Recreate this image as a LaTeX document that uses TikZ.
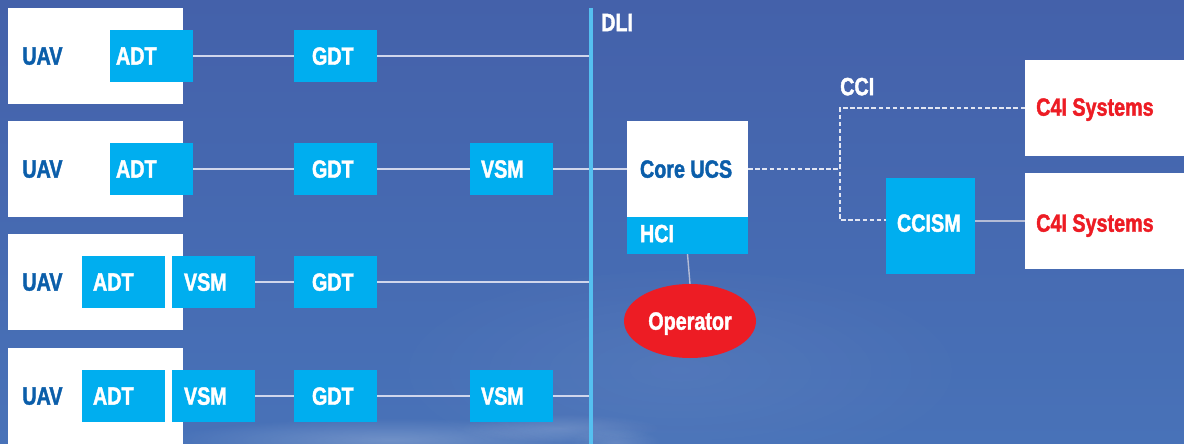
\documentclass[tikz,border=0pt]{standalone}
\usepackage{fontspec}
\newfontfamily\condbf{Liberation Sans Bold}[FakeStretch=0.79, FakeBold=1.6]
\usetikzlibrary{shapes.geometric,fadings}

\definecolor{skytop}{RGB}{68,97,170}
\definecolor{skybot}{RGB}{72,114,184}
\definecolor{boxcyan}{RGB}{0,174,239}
\definecolor{uavblue}{RGB}{11,94,170}
\definecolor{alertred}{RGB}{237,28,36}
\definecolor{dlicol}{RGB}{85,192,240}
\definecolor{linkcol}{RGB}{208,214,236}
\definecolor{dashcol}{RGB}{226,230,243}
\definecolor{greylink}{RGB}{180,188,214}

\tikzfading[name=softblob, inner color=transparent!0, outer color=transparent!100]

\begin{document}
\begin{tikzpicture}[x=1pt, y=-1pt,
  font=\condbf\fontsize{25}{28}\selectfont,
  wbox/.style={fill=white, minimum width=175, minimum height=96, inner sep=0},
  bbox/.style={fill=boxcyan, minimum width=83, minimum height=52, inner sep=0},
  lbl/.style={anchor=west, inner sep=0, text depth=0pt},
  wlbl/.style={lbl, text=white},
  blbl/.style={lbl, text=uavblue},
  rlbl/.style={lbl, text=alertred},
  link/.style={draw=linkcol, line width=1.6},
  glink/.style={draw=greylink, line width=1.4},
  ccil/.style={draw=dashcol, line width=1.6, dash pattern=on 4.5pt off 2.6pt},
  dliline/.style={draw=dlicol, line width=3.6}]

% sky background
\clip (0,0) rectangle (1184,444);
\shade[top color=skytop, bottom color=skybot] (0,0) rectangle (1184,444);
\fill[white, opacity=0.06, path fading=softblob] (680,370) ellipse (300 and 110);
\fill[white, opacity=0.22, path fading=softblob] (390,440) ellipse (220 and 22);
\fill[white, opacity=0.16, path fading=softblob] (560,428) ellipse (100 and 14);
\fill[white, opacity=0.14, path fading=softblob] (615,442) ellipse (45 and 14);

% UAV frames
\node[wbox, label={[blbl, xshift=14.3]west:UAV}] (uav1) at (95.5,56) {};
\node[wbox, label={[blbl, xshift=14.3]west:UAV}] (uav2) at (95.5,169) {};
\node[wbox, label={[blbl, xshift=14.3]west:UAV}] (uav3) at (95.5,282) {};
\node[wbox, label={[blbl, xshift=14.3]west:UAV}] (uav4) at (95.5,396) {};

% row 1
\node[bbox, label={[wlbl, xshift=6]west:ADT}] (adt1) at (151.5,56) {};
\node[bbox, label={[wlbl, xshift=18]west:GDT}] (gdt1) at (335.5,56) {};
% row 2
\node[bbox, label={[wlbl, xshift=6]west:ADT}] (adt2) at (151.5,169) {};
\node[bbox, label={[wlbl, xshift=18]west:GDT}] (gdt2) at (335.5,169) {};
\node[bbox, label={[wlbl, xshift=11]west:VSM}] (vsm2) at (511.5,169) {};
% row 3
\node[bbox, label={[wlbl, xshift=11]west:ADT}] (adt3) at (123.5,282) {};
\node[bbox, label={[wlbl, xshift=12]west:VSM}] (vsm3) at (213.5,282) {};
\node[bbox, label={[wlbl, xshift=18]west:GDT}] (gdt3) at (335.5,282) {};
% row 4
\node[bbox, label={[wlbl, xshift=11]west:ADT}] (adt4) at (123.5,396) {};
\node[bbox, label={[wlbl, xshift=12]west:VSM}] (vsm4) at (213.5,396) {};
\node[bbox, label={[wlbl, xshift=18]west:GDT}] (gdt4) at (335.5,396) {};
\node[bbox, label={[wlbl, xshift=11]west:VSM}] (vsm5) at (511.5,396) {};

% control station
\node[fill=white, minimum width=121, minimum height=96, inner sep=0,
      label={[blbl, xshift=13]west:Core UCS}] (core) at (687.5,169) {};
\node[fill=boxcyan, minimum width=121, minimum height=37, inner sep=0,
      label={[wlbl, xshift=13, yshift=2]west:HCI}] (hci) at (687.5,235.5) {};
\node[ellipse, fill=alertred, minimum width=132, minimum height=74, inner sep=0,
      text=white, text depth=0pt] (op) at (690,321) {Operator};

% C4I side
\node[fill=boxcyan, minimum width=89, minimum height=96, inner sep=0,
      label={[wlbl, xshift=11, yshift=3]west:CCISM}] (ccism) at (930.5,226) {};
\node[fill=white, anchor=west, minimum width=175, minimum height=96, inner sep=0,
      label={[rlbl, xshift=11, yshift=1]west:C4I Systems}] (c4ia) at (1025,108) {};
\node[fill=white, anchor=west, minimum width=175, minimum height=96, inner sep=0,
      label={[rlbl, xshift=11, yshift=-2]west:C4I Systems}] (c4ib) at (1025,221) {};

% interface labels
\node[wlbl] (dlitext) at (601,22.5) {DLI};
\node[wlbl] (ccitext) at (840,86.5) {CCI};

% DLI bus ends
\coordinate (dlitop) at (591,8);
\coordinate (dlibot) at (591,444);
\coordinate (cciB) at (840,220);

% data links
\draw[link] (adt1.east) -- (gdt1.west);
\draw[link] (gdt1.east) -- (gdt1.east -| dlitop);
\draw[link] (adt2.east) -- (gdt2.west);
\draw[link] (gdt2.east) -- (vsm2.west);
\draw[link] (vsm2.east) -- (core.west);
\draw[link] (vsm3.east) -- (gdt3.west);
\draw[link] (gdt3.east) -- (gdt3.east -| dlitop);
\draw[link] (vsm4.east) -- (gdt4.west);
\draw[link] (gdt4.east) -- (vsm5.west);
\draw[link] (vsm5.east) -- (vsm5.east -| dlitop);
\draw[glink] (hci.south) -- (op.north);

% DLI bus
\draw[dliline] (dlitop) -- (dlibot);

% CCI connections
\draw[ccil] (core.east) -- (core.east -| cciB);
\draw[ccil] (c4ia.west) -| (cciB) -- (cciB -| ccism.west);
\draw[glink] (c4ib.west -| ccism.east) -- (c4ib.west);
\end{tikzpicture}
\end{document}
